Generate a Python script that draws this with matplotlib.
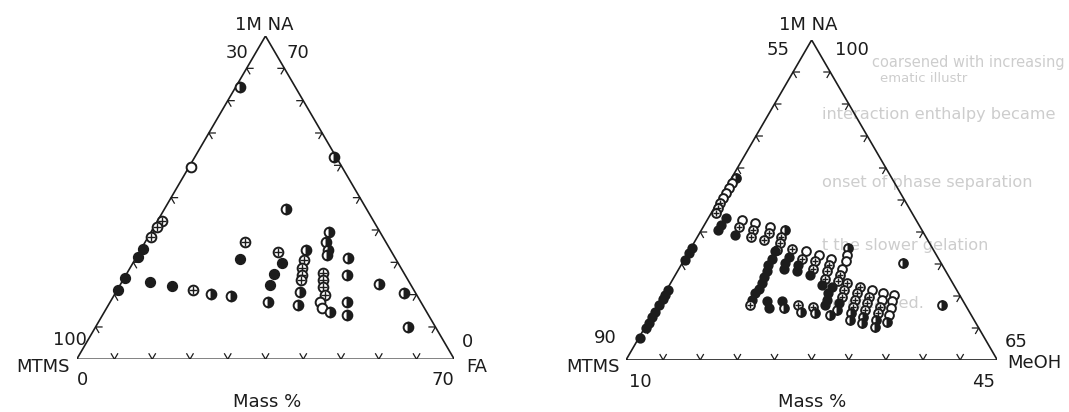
import numpy as np
import matplotlib.pyplot as plt

INK = "#1c1c1c"
GHOST = "#cdcdcd"

# left diagram: corners MTMS (100), 1M NA (70 at top), FA (70 at right); mass %
leftFA = [0.8, 0.3, 25.9, 22.5, 0.8, 0.6, 0.5, 0.3, 0.2, 0.2, 0.2,
          5.2, 9.8, 14.1, 17.9, 21.7, 18.5, 19.4,
          25.7, 27.6, 27.3, 27.8, 29.3,
          30.7, 31.4, 32.0, 32.6, 33.1, 34.1, 35.2,
          32.9, 33.5, 34.8, 35.1, 36.4, 37.1, 37.9, 39.0, 38.9, 39.9, 41.8,
          39.4, 40.9, 43.9, 45.3, 48.0, 53.5, 57.9]
leftNA = [58.9, 41.7, 43.7, 32.5, 30.0, 28.7, 26.5, 23.8, 22.2, 17.5, 14.9,
          16.8, 15.9, 15.0, 14.1, 13.8, 25.5, 21.7,
          23.3, 20.8, 18.4, 16.1, 12.5,
          23.7, 21.5, 19.7, 18.3, 17.1, 14.6, 11.8,
          27.6, 25.5, 23.7, 22.6, 18.6, 17.2, 15.7, 13.9, 12.5, 11.0, 10.3,
          21.9, 18.3, 12.3, 9.6, 16.2, 14.4, 7.1]
# f filled, o open, h half filled, x crossed circle
leftKind = "hohh" "xxx" "ffff" "ffxhh" "xf" "xfffh" "hxxxxhh" "hhhhxxxxooh" "hhhh" "hhh"

# right diagram: corners MTMS (90), 1M NA, MeOH (45 at right); mass %
rightMeOH = [10.4, 10.3, 10.3, 10.3, 10.3, 10.3, 10.4, 10.4,
             10.1, 10.1, 10.1, 10.1, 10.1, 10.1, 10.1, 10.1, 10.1, 10.1, 10.1, 10.1,
             11.7, 11.6, 11.6, 13.3, 13.4, 13.4, 14.7, 14.9, 15.0, 16.3, 16.5, 16.5,
             17.9, 17.9, 18.1, 18.2,
             18.1, 18.2, 18.2, 18.4, 18.5, 18.6, 18.6, 18.5, 18.6, 18.7,
             19.6, 19.7, 19.7, 19.9, 21.0, 21.0, 21.0, 21.3,
             22.4, 22.4, 22.6, 22.7, 23.8, 23.9, 24.1, 24.3, 24.4,
             24.8, 25.1, 25.3, 25.4, 25.5, 25.7,
             25.4, 25.4, 25.6, 25.8,
             26.6, 26.7, 26.9, 27.0, 27.1, 28.1, 28.1, 28.3, 28.5, 28.7, 28.9,
             29.3, 29.5, 29.6, 29.8, 30.0, 30.2, 30.6, 30.8, 31.0, 31.2, 31.4, 31.7,
             31.7, 31.9, 32.1, 32.3, 32.5,
             20.1, 20.6, 21.5, 22.0, 23.2, 23.8, 24.7, 25.3, 26.8,
             30.8, 36.8]
rightNA = [19.9, 19.4, 18.8, 18.3, 17.7, 17.2, 16.6, 16.1,
           12.25, 11.7, 10.9, 7.7, 7.1, 6.7, 6.0, 5.25, 4.7, 4.05, 3.5, 2.4,
           15.5, 14.8, 14.2, 15.3, 14.5, 13.7, 15.0, 14.2, 13.5, 14.6, 13.9, 13.1,
           14.2, 13.5, 12.8, 12.0,
           11.9, 11.1, 10.4, 9.7, 9.1, 8.4, 7.8, 7.3, 6.6, 6.0,
           12.1, 11.3, 10.6, 9.9, 11.9, 11.1, 10.4, 9.7,
           11.5, 10.8, 10.0, 9.3, 11.1, 10.4, 9.7, 8.9, 8.2,
           12.2, 11.5, 10.8, 10.0, 9.3, 8.6,
           8.0, 7.3, 6.6, 6.0,
           8.4, 7.7, 6.9, 6.2, 5.5, 8.0, 7.3, 6.6, 5.8, 5.1, 4.4,
           7.7, 6.9, 6.2, 5.5, 4.7, 4.0, 7.3, 6.6, 5.8, 5.1, 4.4, 3.6,
           7.1, 6.4, 5.7, 4.9, 4.2,
           6.4, 5.7, 6.4, 5.7, 6.0, 5.3, 5.8, 5.1, 4.9,
           10.6, 6.0]
rightKind = ("hooooxxx" "ffffffffffff"
             "fff" "oxf" "oxx" "oxx" "hxxx"
             "fffffffffx"
             "xfff" "oxff" "oxxf" "oxxxf" "hoooxx"
             "ffff"
             "xxxfh" "xxxxhh" "oxxxhh" "ooxxhh" "ooooh"
             "fffhxhxhh" "hh")

# faint text showing through from the other side of the scanned page
ghostLines = ["coarsened with increasing", "ematic illustr",
              "interaction enthalpy became", "onset of phase separation",
              "t the slower gelation", "be obtained."]


def toXY(right, top, low, span):
    r = (np.asarray(right) - low) / span
    t = np.asarray(top) / span
    return r + t / 2, t


def drawFrame(ax):
    ax.plot([0, 1, 0.5, 0], [0, 0, 1, 0], color=INK, lw=1.2, solid_joinstyle="miter")
    d = 0.017
    for k in range(1, 10):
        f = k / 10
        # base: chevron pointing down
        ax.plot([f - d / 2, f, f + d / 2], [d, 0, d], color=INK, lw=0.9)
        # left edge
        x, y = f / 2, f
        ax.plot([x + d, x, x + d / 2], [y, y, y - d], color=INK, lw=0.9)
        # right edge
        x, y = 1 - f / 2, f
        ax.plot([x - d, x, x - d / 2], [y, y, y - d], color=INK, lw=0.9)


def drawPoints(ax, xs, ys, kinds, size):
    for x, y, k in zip(xs, ys, kinds):
        if k == "f":
            ax.plot(x, y, "o", ms=size, mfc=INK, mec=INK, mew=1.1)
        elif k == "o":
            ax.plot(x, y, "o", ms=size, mfc="white", mec=INK, mew=1.4)
        elif k == "h":
            ax.plot(x, y, "o", ms=size, fillstyle="right", mfc=INK, mfcalt="white", mec=INK, mew=1.4)
        else:
            ax.plot(x, y, "o", ms=size, mfc="white", mec=INK, mew=1.4)
            ax.plot(x, y, "+", ms=size * 0.75, mec=INK, mew=1.0)


def makeAxes(fig, left, top, width, height):
    W, H = 1069, 412
    ax = fig.add_axes([left / W, (H - top - height) / H, width / W, height / H])
    ax.set_xlim(0, 1)
    ax.set_ylim(0, 1)
    ax.axis("off")
    return ax


fig = plt.figure(figsize=(10.69, 4.12), dpi=100)
fs = 13

ghostY = [62, 78, 115, 183, 246, 304]
ghostX = [872, 880, 822, 822, 822, 822]
ghostSize = [10.5, 9.5, 11.6, 11.6, 11.6, 11.6]
for i, line in enumerate(ghostLines):
    fig.text(ghostX[i] / 1069, 1 - ghostY[i] / 412, line, fontsize=ghostSize[i],
             color=GHOST, va="center", ha="left", zorder=-1)

# left ternary
ax = makeAxes(fig, 76.7, 36, 377.6, 323.3)
drawFrame(ax)
x, y = toXY(leftFA, leftNA, 0, 70)
drawPoints(ax, x, y, leftKind, 7.0)
kw = dict(fontsize=fs, color=INK, va="center")
ax.text(0.498, 1.034, "1M NA", ha="center", **kw)
ax.text(0.424, 0.946, "30", ha="center", **kw)
ax.text(0.587, 0.946, "70", ha="center", **kw)
ax.text(0.027, 0.06, "100", ha="right", **kw)
ax.text(-0.018, -0.024, "MTMS", ha="right", **kw)
ax.text(0.016, -0.064, "0", ha="center", **kw)
ax.text(0.971, -0.064, "70", ha="center", **kw)
ax.text(1.02, 0.054, "0", ha="left", **kw)
ax.text(1.031, -0.024, "FA", ha="left", **kw)
ax.text(0.503, -0.131, "Mass %", ha="center", **kw)

# right ternary
ax = makeAxes(fig, 626, 40, 371.3, 320)
drawFrame(ax)
x, y = toXY(rightMeOH, rightNA, 10, 35)
drawPoints(ax, x, y, rightKind, 6.3)
ax.text(0.491, 1.047, "1M NA", ha="center", **kw)
ax.text(0.41, 0.969, "55", ha="center", **kw)
ax.text(0.608, 0.969, "100", ha="center", **kw)
ax.text(-0.025, 0.068, "90", ha="right", **kw)
ax.text(-0.016, -0.022, "MTMS", ha="right", **kw)
ax.text(0.038, -0.068, "10", ha="center", **kw)
ax.text(0.962, -0.068, "45", ha="center", **kw)
ax.text(1.021, 0.057, "65", ha="left", **kw)
ax.text(1.026, -0.009, "MeOH", ha="left", **kw)
ax.text(0.5, -0.13, "Mass %", ha="center", **kw)

fig.savefig("out.png", dpi=100, facecolor="white")
